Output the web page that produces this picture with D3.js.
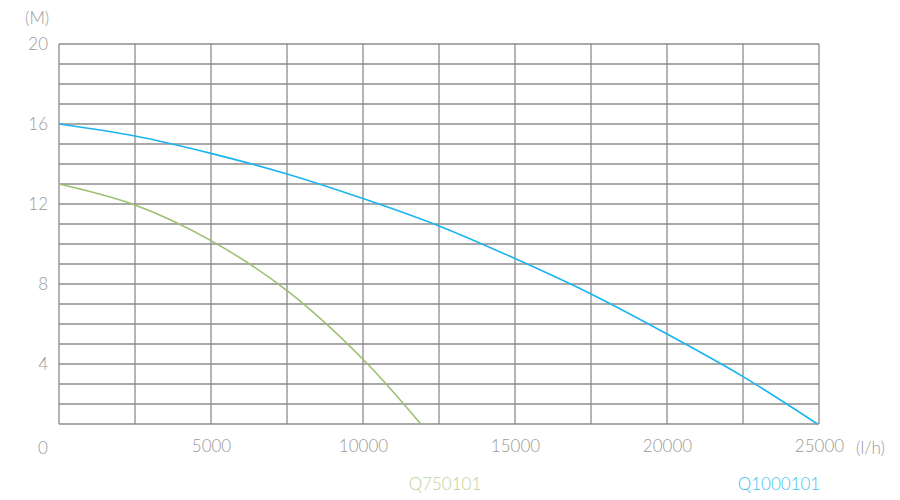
<!DOCTYPE html>
<html>
<head>
<meta charset="utf-8">
<script src="https://cdn.jsdelivr.net/npm/d3@7"></script>
<style>
  body { margin: 0; background: #fff; }
  svg text { font-family: Lato, "Open Sans", sans-serif; font-weight: 300; fill: #9a9a9a; }
</style>
</head>
<body>
<svg width="900" height="500"></svg>
<script>
// flow (l/h) and head (M) readings
const flowTicks = [5000, 10000, 15000, 20000, 25000];
const headTicks = [4, 8, 12, 16, 20];

const q750Flow = [0, 2500, 5000, 7500, 10000, 11900];
const q750Head = [13, 11.95, 10.17, 7.67, 4.24, 1.0];

const q1000Flow = [0, 2500, 5000, 7500, 10000, 12500, 15000, 17500, 20000, 22500, 24950];
const q1000Head = [16, 15.4, 14.53, 13.5, 12.27, 10.9, 9.27, 7.5, 5.5, 3.37, 1.0];

const seriesNames = ["Q750101", "Q1000101"];

// chart dimensions (20 px per metre, grid stops at 1 M)
const margin = { top: 44, left: 59 };
const width = 760;
const height = 400;

const x = d3.scaleLinear().domain([0, 25000]).range([0, width]);
const y = d3.scaleLinear().domain([0, 20]).range([height, 0]);

const svg = d3.select("svg");
const g = svg.append("g")
  .attr("transform", "translate(" + margin.left + "," + margin.top + ")");

// grid: vertical every 2500, horizontal every 1 M
const grid = g.append("g")
  .attr("stroke", "#8c8c8c")
  .attr("stroke-width", 1.3)
  .attr("fill", "none");
grid.selectAll(".v")
  .data(d3.range(0, 25001, 2500))
  .enter()
  .append("line")
  .attr("x1", d => x(d)).attr("x2", d => x(d))
  .attr("y1", y(20)).attr("y2", y(1));
grid.selectAll(".h")
  .data(d3.range(1, 21, 1))
  .enter()
  .append("line")
  .attr("x1", 0).attr("x2", width)
  .attr("y1", d => y(d)).attr("y2", d => y(d));

const labelFont = sel => sel
  .style("font-size", "17px")
  .attr("fill", "#9a9a9a")
  .style("font-family", "Lato, 'Open Sans', sans-serif")
  .style("font-weight", 300);

// axes, labels only
const yAxis = g.append("g")
  .call(d3.axisLeft(y).tickValues(headTicks).tickSize(0).tickPadding(11));
yAxis.select(".domain").remove();
yAxis.selectAll("text").call(labelFont);

const xAxis = g.append("g")
  .attr("transform", "translate(0," + y(1) + ")")
  .call(d3.axisBottom(x).tickValues(flowTicks).tickFormat(d3.format("d")).tickSize(0).tickPadding(16));
xAxis.select(".domain").remove();
xAxis.selectAll("text").call(labelFont);

g.append("text")
  .attr("x", -16)
  .attr("y", y(1) + 30)
  .attr("text-anchor", "middle")
  .style("font-size", "17px")
  .text("0");

g.append("text")
  .attr("x", width + 37)
  .attr("y", y(1) + 30)
  .style("font-size", "17px")
  .text("(l/h)");

g.append("text")
  .attr("x", -34)
  .attr("y", -20)
  .style("font-size", "17px")
  .text("(M)");

// curves
const line = d3.line()
  .curve(d3.curveCatmullRom.alpha(0.5))
  .x(d => x(d[0]))
  .y(d => y(d[1]));

const curves = [
  { name: seriesNames[0], color: "#9cbf72", text: "#b9d29a", pts: d3.zip(q750Flow, q750Head), lx: 445 },
  { name: seriesNames[1], color: "#1ab4ee", text: "#45c1f0", pts: d3.zip(q1000Flow, q1000Head), lx: 779 }
];

g.selectAll(".curve")
  .data(curves)
  .enter()
  .append("path")
  .attr("class", "curve")
  .attr("fill", "none")
  .attr("stroke", d => d.color)
  .attr("stroke-width", 1.6)
  .attr("d", d => line(d.pts));

// legend labels under the axis
svg.selectAll(".legend")
  .data(curves)
  .enter()
  .append("text")
  .attr("class", "legend")
  .attr("x", d => d.lx)
  .attr("y", 490)
  .attr("text-anchor", "middle")
  .style("font-size", "17px")
  .style("fill", d => d.text)
  .text(d => d.name);
</script>
</body>
</html>
